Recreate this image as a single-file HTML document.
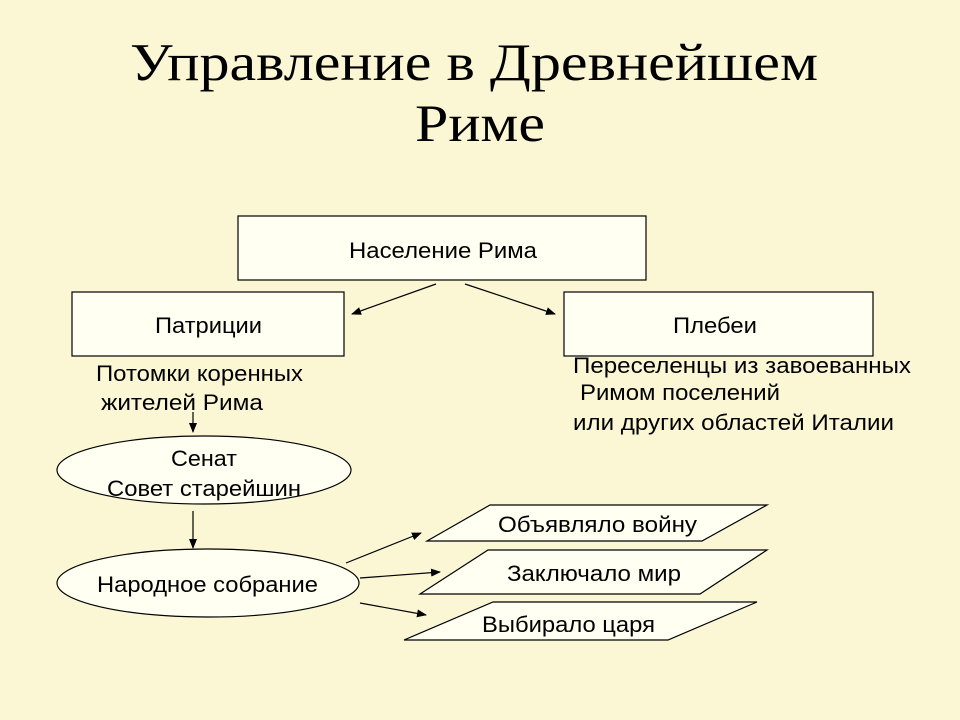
<!DOCTYPE html>
<html><head><meta charset="utf-8"><style>
html,body{margin:0;padding:0;background:#fbf7d5;}
</style></head><body>
<svg width="960" height="720" xmlns="http://www.w3.org/2000/svg" style="display:block">
<rect width="960" height="720" fill="#fbf7d5"/>
<defs><marker id="a" markerWidth="10" markerHeight="8" refX="9" refY="4" orient="auto" markerUnits="userSpaceOnUse"><path d="M0,0 L10,4 L0,8 z" fill="#000"/></marker></defs>
<g font-family="'Liberation Serif',serif" font-size="53" fill="#000">
<text x="130" y="80" textLength="688" lengthAdjust="spacingAndGlyphs">Управление в Древнейшем</text>
<text x="415" y="141" textLength="130" lengthAdjust="spacingAndGlyphs">Риме</text>
</g>
<g stroke="#000" stroke-width="1.2" fill="#fffff2">
<rect x="238" y="216" width="408" height="64"/>
<rect x="72" y="292" width="272" height="64"/>
<rect x="564" y="292" width="309" height="64"/>
<ellipse cx="204" cy="470" rx="147" ry="34"/>
<ellipse cx="208" cy="583" rx="151" ry="34"/>
<polygon points="490,505 767,505 702,541 427,541"/>
<polygon points="488,550 767,550 700,594 420,594"/>
<polygon points="493,602 757,602 668,640 404,640"/>
</g>
<g stroke="#000" stroke-width="1.2" marker-end="url(#a)">
<line x1="436" y1="284" x2="352" y2="314"/>
<line x1="465" y1="284" x2="555" y2="314"/>
<line x1="193" y1="412" x2="193" y2="432"/>
<line x1="193" y1="511" x2="193" y2="548"/>
<line x1="346" y1="563" x2="421" y2="533"/>
<line x1="360" y1="578" x2="440" y2="572"/>
<line x1="360" y1="603" x2="426" y2="615"/>
</g>
<g font-family="'Liberation Sans',sans-serif" font-size="22" fill="#000">
<text x="349" y="258" textLength="188" lengthAdjust="spacingAndGlyphs">Население Рима</text>
<text x="155" y="333" textLength="107" lengthAdjust="spacingAndGlyphs">Патриции</text>
<text x="673" y="333" textLength="84" lengthAdjust="spacingAndGlyphs">Плебеи</text>
<text x="96" y="381" textLength="207" lengthAdjust="spacingAndGlyphs">Потомки коренных</text>
<text x="101" y="410" textLength="162" lengthAdjust="spacingAndGlyphs">жителей Рима</text>
<text x="573" y="373" textLength="338" lengthAdjust="spacingAndGlyphs">Переселенцы из завоеванных</text>
<text x="580" y="400" textLength="200" lengthAdjust="spacingAndGlyphs">Римом поселений</text>
<text x="573" y="430" textLength="321" lengthAdjust="spacingAndGlyphs">или других областей Италии</text>
<text x="171" y="466" textLength="66" lengthAdjust="spacingAndGlyphs">Сенат</text>
<text x="107" y="496" textLength="194" lengthAdjust="spacingAndGlyphs">Совет старейшин</text>
<text x="97" y="592" textLength="221" lengthAdjust="spacingAndGlyphs">Народное собрание</text>
<text x="498" y="532" textLength="199" lengthAdjust="spacingAndGlyphs">Объявляло войну</text>
<text x="507" y="581" textLength="174" lengthAdjust="spacingAndGlyphs">Заключало мир</text>
<text x="482" y="632" textLength="173" lengthAdjust="spacingAndGlyphs">Выбирало царя</text>
</g>
</svg>
</body></html>
